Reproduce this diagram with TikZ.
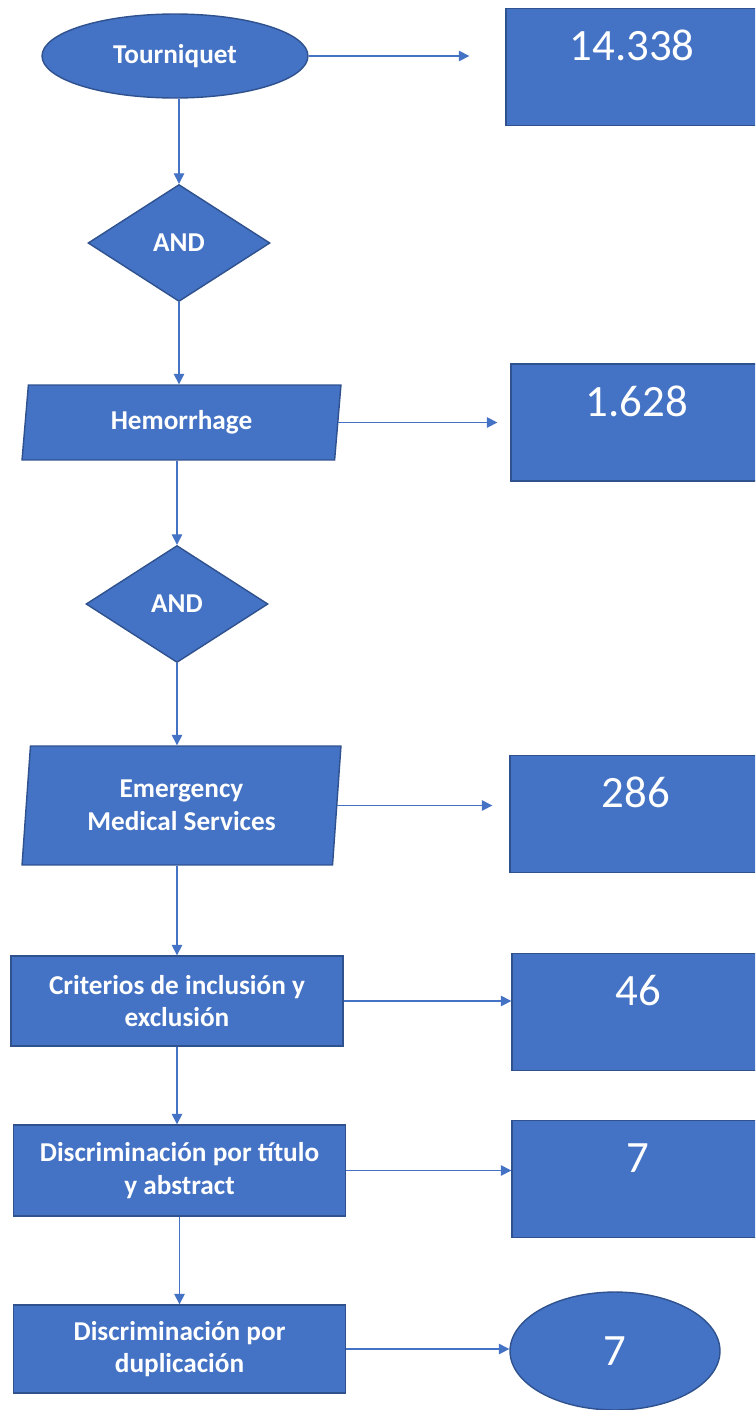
\documentclass[tikz,border=0pt]{standalone}
\usepackage{fontspec}
\setmainfont{Carlito}
\usetikzlibrary{shapes.geometric,arrows.meta}
\definecolor{bleu}{HTML}{4472C4}
\definecolor{bleu_fonce}{HTML}{2F528F}
\begin{document}
\begin{tikzpicture}[x=0.02cm,y=-0.02cm]
		\tikzstyle{forme}=[draw=bleu_fonce,line width=0.8pt,fill=bleu,text=white,inner sep=0pt,align=center,font=\bfseries\fontsize{15.5}{18.5}\selectfont]
		\tikzstyle{boite}=[forme,rectangle,minimum width=6.64cm]
		\tikzstyle{boite_nombre}=[forme,rectangle,minimum width=5.04cm,minimum height=2.34cm,text height=1.04cm,text depth=1.3cm,font=\fontsize{25.5}{30}\selectfont]
		\tikzstyle{losange}=[forme,diamond,minimum width=3.64cm,minimum height=2.34cm]
		\tikzstyle{parallelo}=[forme,trapezium,trapezium stretches body,minimum width=6.38cm]
		\tikzstyle{fleche}=[draw=bleu,line width=0.8pt,-{Triangle[length=6pt,width=6pt]}]
		\useasboundingbox (0,0) rectangle (755,1410);
		\clip (0,0) rectangle (755,1410);
		% colonne gauche
		\node[forme,ellipse,minimum width=5.32cm,minimum height=1.68cm] (tourn) at (175,56) {Tourniquet};
		\node[losange] (and1) at (179,243) {AND};
		\node[parallelo,trapezium left angle=75,trapezium right angle=105,minimum height=1.5cm] (hem) at (181.5,422.5) {Hemorrhage};
		\node[losange] (and2) at (177,604) {AND};
		\node[parallelo,trapezium left angle=80.5,trapezium right angle=99.5,minimum height=2.38cm] (ems) at (181.5,805.5) {Emergency\\Medical Services};
		\node[boite,minimum height=1.8cm] (crit) at (177,1001) {Criterios de inclusión y\\exclusión};
		\node[boite,minimum height=1.82cm] (tit) at (179.5,1170.5) {Discriminación por título\\y abstract};
		\node[boite,minimum height=1.76cm] (dup) at (179.5,1349) {Discriminación por\\duplicación};
		% colonne droite
		\node[boite_nombre] (n1) at (632,67) {14.338};
		\node[boite_nombre] (n2) at (637,422.5) {1.628};
		\node[boite_nombre] (n3) at (636,814) {286};
		\node[boite_nombre] (n4) at (638,1012) {46};
		\node[boite_nombre] (n5) at (638,1179) {7};
		\node[forme,ellipse,minimum width=4.2cm,minimum height=2.36cm,font=\fontsize{25.5}{30}\selectfont] (n6) at (615,1351) {7};
		% fleches
		\draw[fleche] (and1.north |- tourn.south) -- (and1.north);
		\draw[fleche] (and1.south) -- (and1.south |- hem.north);
		\draw[fleche] (and2.north |- hem.south) -- (and2.north);
		\draw[fleche] (and2.south) -- (and2.south |- ems.north);
		\draw[fleche] (crit.north |- ems.south) -- (crit.north);
		\draw[fleche] (crit.south) -- (crit.south |- tit.north);
		\draw[fleche] (dup.north |- tit.south) -- (dup.north);
		\draw[fleche,shorten >=0.72cm] (tourn.east) -- (tourn.east -| n1.west);
		\draw[fleche,shorten >=0.26cm] (hem.east) -- (hem.east -| n2.west);
		\draw[fleche,shorten >=0.34cm] (ems.east) -- (ems.east -| n3.west);
		\draw[fleche] (crit.east) -- (crit.east -| n4.west);
		\draw[fleche] (tit.east) -- (tit.east -| n5.west);
		\draw[fleche] (dup.east) -- (dup.east -| n6.west);
\end{tikzpicture}
\end{document}
